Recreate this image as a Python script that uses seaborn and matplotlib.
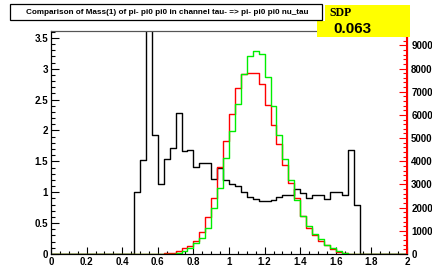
import numpy as np
import pandas as pd
import matplotlib
matplotlib.use("Agg")
import matplotlib.pyplot as plt
import seaborn as sns
from matplotlib.patches import Rectangle
from matplotlib.ticker import MultipleLocator

plt.rcParams['font.family'] = ['Liberation Sans', 'DejaVu Sans']
plt.rcParams['font.weight'] = 'bold'

# 60 bins of width 1/30 between 0 and 2
edges = np.linspace(0, 2, 61)
centers = (edges[:-1] + edges[1:]) / 2

# black histogram, left axis
mass_black = [0] * 14 + [
    1.00, 1.52, 4.20, 1.92, 1.13, 1.53, 1.72, 2.29, 1.67, 1.69,
    1.41, 1.48, 1.47, 1.21, 1.40, 1.19, 1.14, 1.10, 1.00, 0.93,
    0.89, 0.86, 0.86, 0.88, 0.93, 0.95, 0.95, 1.05, 0.98, 0.90,
    0.95, 0.95, 0.89, 1.01, 1.00, 0.96, 1.69, 0.79,
] + [0] * 8

# red histogram, right axis
mass_red = [0] * 18 + [
    10, 25, 55, 130, 245, 360, 560, 935, 1610, 2430,
    3740, 4870, 6060, 7180, 7770, 7815, 7800, 7320, 6440, 5570,
    4730, 3860, 3050, 2400, 1650, 1110, 810, 560, 370, 215,
    100, 30, 10,
] + [0] * 9

# green histogram, right axis
mass_green = [0] * 19 + [
    10, 20, 55, 130, 270, 460, 675, 1130, 2000, 2850,
    4130, 5300, 6450, 7745, 8560, 8760, 8610, 7640, 6400, 5130,
    4080, 3190, 2330, 1650, 1220, 850, 645, 400, 250, 130,
    50, 15,
] + [0] * 9

title = "Comparison of Mass(1) of pi- pi0 pi0 in channel tau- => pi- pi0 pi0 nu_tau"
sdp_value = "0.063"

df = pd.DataFrame({"mass": centers, "black": mass_black, "red": mass_red, "green": mass_green})

fig = plt.figure(figsize=(4.32, 2.7), dpi=100)
ax = fig.add_axes([51 / 432, 16 / 270, 356 / 432, 223 / 270])
ax2 = ax.twinx()

hist_kw = dict(x="mass", binwidth=1 / 30, binrange=(0, 2), element="step", fill=False,
               linewidth=1.0)
sns.histplot(data=df, weights="black", color="black", ax=ax, **hist_kw)
sns.histplot(data=df, weights="red", color="#ff0000", ax=ax2, **hist_kw)
sns.histplot(data=df, weights="green", color="#00ee00", ax=ax2, **hist_kw)

ax.set_xlim(0, 2)
ax.set_ylim(0, 3.61)
ax2.set_ylim(0, 9620)
for a in (ax, ax2):
    a.set_xlabel("")
    a.set_ylabel("")

ax.xaxis.set_minor_locator(MultipleLocator(0.05))
ax.yaxis.set_minor_locator(MultipleLocator(0.1))
ax2.yaxis.set_major_locator(MultipleLocator(1000))
ax2.yaxis.set_minor_locator(MultipleLocator(200))

ax.set_xticks(np.arange(0, 2.01, 0.2))
ax.set_xticklabels(["0", "0.2", "0.4", "0.6", "0.8", "1", "1.2", "1.4", "1.6", "1.8", "2"])
ax.set_yticks(np.arange(0, 3.51, 0.5))
ax.set_yticklabels(["0", "0.5", "1", "1.5", "2", "2.5", "3", "3.5"])

ax.tick_params(axis="x", which="major", direction="in", length=5, width=0.8,
               labelsize=7, pad=2, top=False)
ax.tick_params(axis="x", which="minor", direction="in", length=2.5, width=0.8, top=False)
ax.tick_params(axis="y", which="major", direction="in", length=6, width=0.8,
               labelsize=7, pad=2)
ax.tick_params(axis="y", which="minor", direction="in", length=3, width=0.8)
ax2.tick_params(axis="y", which="major", direction="in", length=6, width=0.8,
                labelsize=7, pad=3, colors="#ff0000", labelcolor="black")
ax2.tick_params(axis="y", which="minor", direction="in", length=3, width=0.8,
                colors="#ff0000")

for lab in ax.get_xticklabels() + ax.get_yticklabels() + ax2.get_yticklabels():
    lab.set_fontweight("bold")

ax2.spines["right"].set_color("#ff0000")
ax2.spines["right"].set_linewidth(1.5)
ax2.spines["top"].set_color("#555555")
ax.spines["top"].set_color("#555555")
ax2.spines["left"].set_color("black")

# SDP box (drawn under the title box)
fig.patches.append(Rectangle((317 / 432, 1 - 37 / 270), 93 / 432, 32 / 270,
                             transform=fig.transFigure, facecolor="#ffff00",
                             edgecolor="none", zorder=3))
fig.text(329 / 432, 1 - 13 / 270, "SDP", family=["Liberation Serif"], fontsize=8.5,
         fontweight="bold", ha="left", va="center", zorder=7)
fig.text(333 / 432, 1 - 29 / 270, sdp_value, fontsize=11, fontweight="bold",
         ha="left", va="center", zorder=7)

# title box
fig.patches.append(Rectangle((9 / 432, 1 - 21 / 270), 316 / 432, 18 / 270,
                             transform=fig.transFigure, facecolor="white",
                             edgecolor="none", zorder=4))
fig.patches.append(Rectangle((10 / 432, 1 - 20 / 270), 312 / 432, 16 / 270,
                             transform=fig.transFigure, facecolor="white",
                             edgecolor="black", linewidth=0.9, zorder=5))
fig.text(167 / 432, 1 - 12 / 270, title, ha="center", va="center", fontsize=5.85,
         fontweight="bold", zorder=6)

fig.savefig("out.png", dpi=100)
